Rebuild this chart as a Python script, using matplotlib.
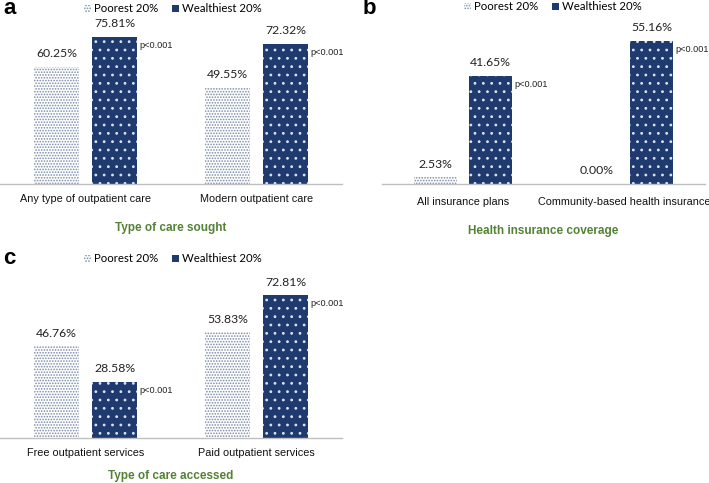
import matplotlib
matplotlib.use("Agg")
import matplotlib.pyplot as plt
from matplotlib.patches import Patch
import numpy as np

# ---------------- data ----------------
series_names = ["Poorest 20%", "Wealthiest 20%"]

a_categories = ["Any type of outpatient care", "Modern outpatient care"]
a_poorest = [60.25, 49.55]
a_wealthiest = [75.81, 72.32]
a_title = "Type of care sought"

b_categories = ["All insurance plans", "Community-based health insurance"]
b_poorest = [2.53, 0.00]
b_wealthiest = [41.65, 55.16]
b_title = "Health insurance coverage"

c_categories = ["Free outpatient services", "Paid outpatient services"]
c_poorest = [46.76, 53.83]
c_wealthiest = [28.58, 72.81]
c_title = "Type of care accessed"

p_label = "p<0.001"

# ---------------- style ----------------
NAVY = "#1F3A6E"
POOR_DOT = "#7A8BA6"
GREEN = "#548235"
AXIS_GREY = "#BFBFBF"
plt.rcParams["hatch.linewidth"] = 0.8

VAL_FONT = ["Lato", "DejaVu Sans"]
NARROW = ["Liberation Sans Narrow", "Liberation Sans", "DejaVu Sans"]

fig = plt.figure(figsize=(7.09, 4.83), dpi=100)
W, H = 709, 483


def add_axes_px(left, right, baseline, top):
    return fig.add_axes([left / W, 1 - baseline / H, (right - left) / W, (baseline - top) / H])


def draw_panel(ax, cats, poor, wealth, title, ymax, letter, letter_xy, legend_xy,
               tick_pad, title_pad):
    x = np.arange(len(cats))
    bw = 0.265
    off = 0.17
    ax.bar(x - off, poor, bw, color="white", edgecolor=POOR_DOT, hatch="......", linewidth=0)
    ax.bar(x + off, wealth, bw, color=NAVY, edgecolor="#DDE3EE", hatch="..", linewidth=0)
    for xi, v in zip(x - off, poor):
        ax.annotate(f"{v:.2f}%", (xi, v), xytext=(0, 5.5), textcoords="offset points",
                    ha="center", va="bottom", fontsize=8.8, family=VAL_FONT, color="#222222")
    for xi, v in zip(x + off, wealth):
        ax.annotate(f"{v:.2f}%", (xi, v), xytext=(0, 5.5), textcoords="offset points",
                    ha="center", va="bottom", fontsize=8.8, family=VAL_FONT, color="#222222")
        ax.annotate(p_label, (xi + bw / 2, v), xytext=(1.8, -3), textcoords="offset points",
                    ha="left", va="top", fontsize=6.6, family=NARROW, color="#222222")
    ax.set_xlim(-0.5, len(cats) - 0.5)
    ax.set_ylim(0, ymax)
    ax.set_xticks(x)
    ax.set_xticklabels(cats, family=NARROW, fontsize=7.8, color="#111111")
    ax.tick_params(axis="x", length=0, pad=tick_pad)
    ax.set_yticks([])
    for s in ["top", "left", "right"]:
        ax.spines[s].set_visible(False)
    ax.spines["bottom"].set_color(AXIS_GREY)
    ax.spines["bottom"].set_linewidth(1.0)
    ax.set_xlabel(title, family=NARROW, fontsize=8.5, fontweight="bold", color=GREEN,
                  labelpad=title_pad)
    fig.text(letter_xy[0] / W, 1 - letter_xy[1] / H, letter, fontsize=16, fontweight="bold",
             family=["Liberation Sans", "DejaVu Sans"], ha="left", va="center")
    handles = [Patch(facecolor="white", edgecolor=POOR_DOT, hatch="......", linewidth=0),
               Patch(facecolor=NAVY, edgecolor="white", hatch="", linewidth=0)]
    fig.legend(handles, series_names, loc="center", ncol=2, frameon=False,
               bbox_to_anchor=(legend_xy[0] / W, 1 - legend_xy[1] / H),
               prop={"family": VAL_FONT, "size": 8.2}, handlelength=0.6, handleheight=0.6,
               handletextpad=0.3, columnspacing=1.2)


ax_a = add_axes_px(0, 342, 184, 19)
draw_panel(ax_a, a_categories, a_poorest, a_wealthiest, a_title, 165 / 1.94, "a", (3, 9),
           (173, 9), 7.5, 12.5)

ax_b = add_axes_px(382, 705, 184, 20)
draw_panel(ax_b, b_categories, b_poorest, b_wealthiest, b_title, 164 / 2.6, "b", (363, 9),
           (553, 7), 9.5, 13)

ax_c = add_axes_px(0, 342, 438, 273)
draw_panel(ax_c, c_categories, c_poorest, c_wealthiest, c_title, 165 / 1.96, "c", (3, 259),
           (173, 259), 7.5, 8.5)

fig.savefig("out.png", dpi=100)
